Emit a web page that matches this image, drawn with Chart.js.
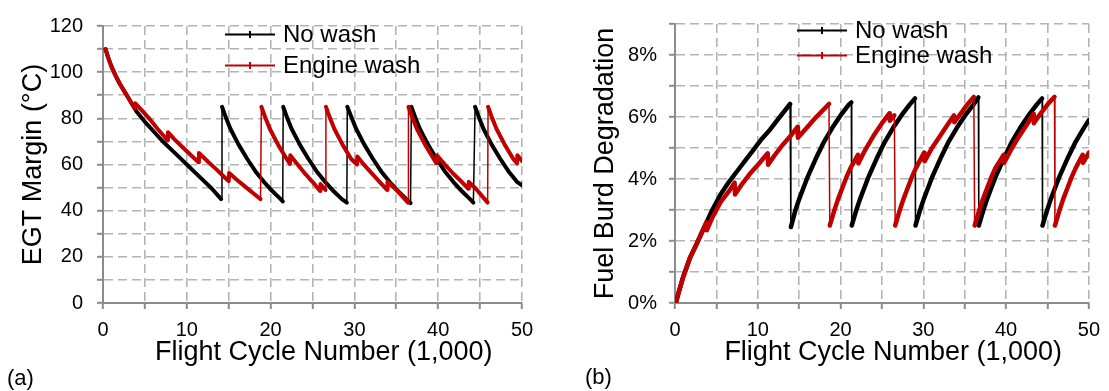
<!DOCTYPE html>
<html>
<head>
<meta charset="utf-8">
<script src="https://cdn.jsdelivr.net/npm/chart.js@4.4.1/dist/chart.umd.min.js"></script>
<style>
  html, body { margin: 0; padding: 0; background: #fff; }
  #wrap { position: relative; width: 1109px; height: 391px; font-family: 'Liberation Sans', Arial, Helvetica, sans-serif; }
  .box { position: absolute; top: 0; }
  #boxA { left: 0; }
  #boxB { left: 555px; }
  .tag { position: absolute; font-size: 22px; line-height: 22px; color: #000; }
</style>
</head>
<body>
<div id="wrap">
  <div class="box" id="boxA"><canvas id="egtChart" width="555" height="391"></canvas></div>
  <div class="box" id="boxB"><canvas id="fuelChart" width="554" height="391"></canvas></div>
  <div class="tag" style="left:7px; top:367px;">(a)</div>
  <div class="tag" style="left:585px; top:366px;">(b)</div>
</div>
<script>
// series names
const seriesNames = ['No wash', 'Engine wash'];

// (a) EGT margin, deg C, x in 1,000 flight cycles
const egtNoWashX = [0.3,0.6,1,1.5,2,2.5,3,3.5,4,5,6,7,8,9,10,11,12,13,14.1,
  14.2,14.7,15.2,16.2,17.2,18.2,19.2,20.2,21.2,21.45,
  21.5,22,22.5,23.5,24.5,25.5,26.5,27.5,28.5,29.1,
  29.15,29.7,30.2,31.2,32.2,33.2,34.2,35.2,36.2,36.7,
  36.8,37.3,37.8,38.8,39.8,40.8,41.8,42.8,43.8,44.2,
  44.4,44.9,45.4,46.4,47.4,48.4,49.4,50];
const egtNoWashY = [110,106.5,102.5,98.5,95,92,89,86,83,78.5,74.5,70.5,67,63.5,60,56.5,53,49.5,45,
  85,80,75.5,68.5,62.5,57,52.5,48.5,45,44,
  85,80,75.5,68.5,62.5,57,52.5,48.5,45,43.5,
  85,80,75.5,68.5,62.5,57,52.5,48.5,45,43.3,
  85,80,75.5,68.5,62.5,57,52.5,48.5,45,43.5,
  85,80,75.5,68.5,62.5,57,52.5,51];

const egtWashX = [0.3,0.6,1,1.5,2,2.5,3,3.5,3.8, 3.85,4.5,5.5,6.5,7.7, 7.75,8.5,9.5,10.5,11.4,
  11.45,12.5,13.5,14.5,15.0, 15.05,16,17,18,18.8,
  18.9,19.4,19.9,20.9,21.9,22.3, 22.35,23,24,25,25.9, 25.95,26.55,
  26.6,27.1,27.6,28.6,29.6,30.3, 30.35,31,32,33,33.9, 33.95,35,36.4,
  36.45,36.95,37.45,38.45,39.45,39.8, 39.85,40.8,41.8,42.8,43.6, 43.65,44.5,45.9,
  45.95,46.45,46.95,47.95,48.95,49.4, 49.45,50];
const egtWashY = [110,106.5,102.5,98.5,95,92,89,86,84.2, 86.5,84,80,75.5,70.5, 74,71,67.5,64,61,
  65,61.3,58,54.5,52.8, 56.3,53.3,50.3,47.3,45,
  85,80,75.5,68.5,62.5,60.3, 64,61,56.5,52.5,48.5, 51.5,49,
  85,80,75.5,68.5,62.5,60, 63.5,60.5,56.5,52.5,49, 52.5,49,43.5,
  85,80,75.5,68.5,62.5,60.5, 64,60,56,52.5,49.5, 52.5,49.5,43.5,
  85,80,75.5,68.5,62.5,60.5, 64,61.5];

// (b) fuel burn degradation, %
const fuelNoWashX = [0.1,0.4,1,1.8,2.6,3.2,3.8,4.5,5.5,6.5,7.5,8.5,9.5,10.5,11.5,12.5,13.9,
  14,14.5,15,15.5,16,16.5,17,18,19,20,21,21.3,
  21.35,21.85,22.35,22.85,23.35,23.85,24.35,25.35,26.35,27.35,28.35,29.0,
  29.05,29.55,30.05,30.55,31.05,31.55,32.05,33.05,34.05,35.05,36.05,36.65,
  36.7,37.2,37.7,38.2,38.7,39.2,39.7,40.7,41.7,42.7,43.7,44.35,
  44.4,44.9,45.4,45.9,46.4,46.9,47.4,48.4,49.4,50];
const fuelNoWashY = [0,0.3,0.85,1.45,1.9,2.25,2.6,3.0,3.5,3.9,4.25,4.6,4.95,5.3,5.6,5.95,6.42,
  2.45,2.95,3.35,3.7,4.05,4.35,4.65,5.2,5.65,6.05,6.4,6.47,
  2.5,2.95,3.35,3.7,4.05,4.35,4.65,5.2,5.65,6.05,6.4,6.6,
  2.5,2.95,3.35,3.7,4.05,4.35,4.65,5.2,5.65,6.05,6.4,6.63,
  2.5,2.95,3.35,3.7,4.05,4.35,4.65,5.2,5.65,6.05,6.4,6.6,
  2.5,2.95,3.35,3.7,4.05,4.35,4.65,5.2,5.65,5.9];

const fuelWashX = [0.1,0.4,1,1.8,2.6,3.2,3.8, 3.85,4.5,5.5,6.5,7.2, 7.25,8,9,10,11.2,
  11.25,12,13,14,14.8, 14.85,16,17,18.6,
  18.7,19.2,19.7,20.2,20.7,21.2,22.1, 22.15,23,24,25,25.9, 25.95,26.5,
  26.6,27.1,27.6,28.1,28.6,29.1,30.1, 30.15,31,32,33,33.7, 33.75,34.5,35.3,36.1,
  36.2,36.7,37.2,37.7,38.2,38.7,39.7, 39.75,40.5,41.5,42.5,43.3, 43.35,44,45,45.85,
  45.9,46.4,46.9,47.4,47.9,48.4,49.25, 49.3,50];
const fuelWashY = [0,0.3,0.85,1.45,1.9,2.25,2.6, 2.35,2.75,3.25,3.6,3.88, 3.5,3.8,4.15,4.45,4.83,
  4.46,4.75,5.1,5.4,5.68, 5.33,5.68,5.98,6.42,
  2.5,2.95,3.35,3.7,4.05,4.35,4.78, 4.5,4.95,5.4,5.8,6.12, 5.88,6.05,
  2.5,2.95,3.35,3.7,4.05,4.35,4.85, 4.57,4.98,5.38,5.78,6.05, 5.83,6.1,6.4,6.65,
  2.5,2.95,3.35,3.7,4.05,4.35,4.78, 4.52,4.9,5.35,5.75,6.1, 5.8,6.05,6.4,6.65,
  2.5,2.95,3.35,3.7,4.05,4.35,4.78, 4.52,4.85];

const FONT = "'Liberation Sans', Arial, Helvetica, sans-serif";
Chart.defaults.font.family = FONT;
Chart.defaults.color = '#000';

const pts = (xs, ys) => xs.map((x, i) => ({ x: x, y: ys[i] }));

// thick curves, thin vertical jumps
function series(label, xs, ys, color, w, jump, order) {
  return {
    label: label,
    data: pts(xs, ys),
    borderColor: color,
    backgroundColor: color,
    borderWidth: w,
    pointRadius: 0,
    tension: 0,
    borderJoinStyle: 'round',
    borderCapStyle: 'round',
    order: order,
    segment: {
      borderWidth: c => Math.abs(c.p1.parsed.y - c.p0.parsed.y) > jump ? 1.5 : w
    }
  };
}

// legend drawn inside the plot: line with a small + and the name
const lineLegend = {
  id: 'lineLegend',
  afterDatasetsDraw(chart, args, o) {
    const ctx = chart.ctx;
    ctx.save();
    chart.data.datasets.forEach((ds, i) => {
      const y = o.y + i * o.gap;
      ctx.strokeStyle = ds.borderColor;
      ctx.lineWidth = 2;
      ctx.beginPath();
      ctx.moveTo(o.x, y);
      ctx.lineTo(o.x + o.len, y);
      const cx = o.x + o.len / 2;
      ctx.moveTo(cx, y - 3.5);
      ctx.lineTo(cx, y + 3.5);
      ctx.stroke();
      ctx.fillStyle = '#000';
      ctx.font = '24px ' + FONT;
      ctx.textAlign = 'left';
      ctx.textBaseline = 'middle';
      ctx.fillText(ds.label, o.x + o.len + 8, y + 1);
    });
    ctx.restore();
  }
};

const gridColor = c => (c.tick && c.tick.value === 0) ? 'rgba(0,0,0,0)' : '#b4b4b4';

function axis(min, max, step, labelEvery, fmt, title, titlePad, tickPad, extra) {
  return Object.assign({
    type: 'linear',
    min: min,
    max: max,
    ticks: {
      stepSize: step,
      autoSkip: false,
      maxRotation: 0,
      padding: tickPad,
      font: { size: 20 },
      color: '#000',
      callback: v => (Math.round(v * 100) % Math.round(labelEvery * 100) === 0) ? fmt(v) : ''
    },
    grid: { color: gridColor, lineWidth: 1.6, tickLength: 6, tickColor: '#8c8c8c', tickWidth: 2 },
    border: { display: true, color: '#8c8c8c', width: 2, dash: [9, 5] },
    title: { display: true, text: title, font: { size: 27 }, color: '#000', padding: titlePad }
  }, extra);
}

const xTitle = '\u00a0\u00a0\u00a0Flight Cycle Number (1,000)';

new Chart(document.getElementById('egtChart'), {
  type: 'line',
  data: {
    datasets: [
      series(seriesNames[0], egtNoWashX, egtNoWashY, '#000000', 4, 10, 2),
      series(seriesNames[1], egtWashX, egtWashY, '#C00000', 4, 10, 1)
    ]
  },
  options: {
    responsive: false,
    animation: false,
    events: [],
    layout: { padding: { left: 0, top: 19, right: 33, bottom: 0 } },
    plugins: {
      legend: { display: false },
      tooltip: { enabled: false },
      lineLegend: { x: 225, y: 34.5, gap: 31, len: 50 }
    },
    scales: {
      x: axis(0, 50, 5, 10, v => v, xTitle, { top: 0, bottom: 22 }, 9,
        { afterFit: s => { s.height = 88; } }),
      y: axis(0, 120, 10, 20, v => v, 'EGT Margin (°C)', { top: 17, bottom: 0 }, 14,
        { afterFit: s => { s.width = 103; } })
    }
  },
  plugins: [lineLegend]
});

new Chart(document.getElementById('fuelChart'), {
  type: 'line',
  data: {
    datasets: [
      series(seriesNames[0], fuelNoWashX, fuelNoWashY, '#000000', 4.5, 1, 2),
      series(seriesNames[1], fuelWashX, fuelWashY, '#C00000', 4.5, 1, 1)
    ]
  },
  options: {
    responsive: false,
    animation: false,
    events: [],
    layout: { padding: { left: 0, top: 18, right: 16, bottom: 0 } },
    plugins: {
      legend: { display: false },
      tooltip: { enabled: false },
      lineLegend: { x: 242, y: 30.5, gap: 25, len: 50 }
    },
    scales: {
      x: axis(0, 50, 5, 10, v => v, xTitle, { top: 0, bottom: 22 }, 9,
        { afterFit: s => { s.height = 88; } }),
      y: axis(0, 9, 1, 2, v => v + '%', 'Fuel Burd Degradation', { top: 34, bottom: 0 }, 12,
        { afterFit: s => { s.width = 120; } })
    }
  },
  plugins: [lineLegend]
});
</script>
</body>
</html>
